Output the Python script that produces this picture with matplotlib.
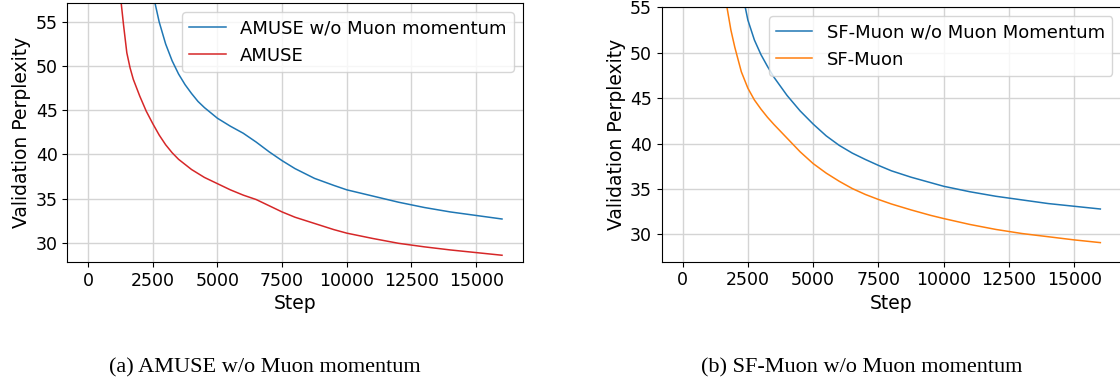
import matplotlib
matplotlib.use("Agg")
import matplotlib.pyplot as plt

# validation perplexity vs step
amuse_nomom_steps = [0, 1000, 1500, 2000, 2250, 2500, 2750, 3000, 3250, 3500, 3750, 4000,
                     4250, 4500, 5000, 5500, 6000, 6500, 7000, 7500, 8000, 8750, 9500,
                     10000, 11000, 12000, 13000, 14000, 15000, 16000]
amuse_nomom = [300, 120, 85, 68, 62.5, 58.3, 55.0, 52.5, 50.6, 49.1, 47.9, 46.9,
               46.0, 45.3, 44.1, 43.2, 42.4, 41.4, 40.3, 39.3, 38.4, 37.3, 36.5,
               36.0, 35.3, 34.6, 34.0, 33.5, 33.1, 32.7]

amuse_steps = [0, 500, 1000, 1250, 1375, 1500, 1625, 1750, 2000, 2250, 2500, 2750, 3000,
               3250, 3500, 4000, 4500, 5000, 5500, 6000, 6500, 7000, 7500, 8000, 8750,
               9500, 10000, 11000, 12000, 13000, 14000, 15000, 16000]
amuse = [300, 130, 70, 58.0, 54.6, 51.5, 49.8, 48.5, 46.6, 44.9, 43.5, 42.2, 41.1,
         40.2, 39.45, 38.3, 37.4, 36.7, 36.0, 35.4, 34.9, 34.2, 33.5, 32.9, 32.2,
         31.5, 31.1, 30.5, 29.95, 29.55, 29.2, 28.9, 28.6]

sf_nomom_steps = [0, 1000, 1500, 2000, 2250, 2400, 2500, 2750, 3000, 3250, 3500, 4000,
                  4500, 5000, 5500, 6000, 6500, 7000, 7500, 8000, 8750, 9500, 10000,
                  11000, 12000, 13000, 14000, 15000, 16000]
sf_nomom = [300, 110, 80, 65, 57.8, 55.0, 53.6, 51.4, 49.8, 48.5, 47.3, 45.3,
            43.6, 42.15, 40.85, 39.8, 38.95, 38.25, 37.6, 37.0, 36.3, 35.7, 35.3,
            34.7, 34.2, 33.8, 33.4, 33.1, 32.8]

sf_muon_steps = [0, 1000, 1500, 1700, 1850, 2000, 2250, 2500, 2750, 3000, 3250, 3500,
                 4000, 4500, 5000, 5500, 6000, 6500, 7000, 7500, 8000, 8750, 9500,
                 10000, 11000, 12000, 13000, 14000, 15000, 16000]
sf_muon = [300, 90, 62, 55, 52.5, 50.6, 47.9, 46.1, 44.8, 43.8, 42.9, 42.1,
           40.6, 39.1, 37.8, 36.75, 35.85, 35.05, 34.4, 33.85, 33.35, 32.7, 32.1,
           31.75, 31.1, 30.55, 30.1, 29.75, 29.4, 29.1]

plt.rcParams["font.family"] = "DejaVu Sans"
plt.rcParams["font.size"] = 12

fig = plt.figure(figsize=(11.2, 3.83), dpi=100)
ax1 = fig.add_axes([0.0601, 0.3151, 0.4066, 0.6763])
ax2 = fig.add_axes([0.5908, 0.3167, 0.4103, 0.6643])

lw = 1.1
ax1.plot(amuse_nomom_steps, amuse_nomom, color="#1f77b4", lw=lw, label="AMUSE w/o Muon momentum")
ax1.plot(amuse_steps, amuse, color="#d62728", lw=lw, label="AMUSE")
ax1.set_ylim(27.8, 57.1)

ax2.plot(sf_nomom_steps, sf_nomom, color="#1f77b4", lw=lw, label="SF-Muon w/o Muon Momentum")
ax2.plot(sf_muon_steps, sf_muon, color="#ff7f0e", lw=lw, label="SF-Muon")
ax2.set_ylim(27, 55)

for ax in (ax1, ax2):
    ax.set_xlim(-800, 16800)
    ax.set_xticks([0, 2500, 5000, 7500, 10000, 12500, 15000])
    ax.set_yticks([30, 35, 40, 45, 50, 55])
    ax.tick_params(labelsize=12.5)
    ax.grid(True, color="#d4d4d4", lw=1.0)
    ax.set_axisbelow(True)
    ax.set_xlabel("Step", fontsize=13.5, labelpad=3)
    ax.set_ylabel("Validation Perplexity", fontsize=13.5, labelpad=3)
    ax.legend(loc="upper right", fontsize=13)

fig.text(0.236, 0.0287, "(a) AMUSE w/o Muon momentum", family="Liberation Serif",
         fontsize=16, ha="center", va="baseline")
fig.text(0.769, 0.0287, "(b) SF-Muon w/o Muon momentum", family="Liberation Serif",
         fontsize=16, ha="center", va="baseline")

fig.savefig("out.png", dpi=100)
